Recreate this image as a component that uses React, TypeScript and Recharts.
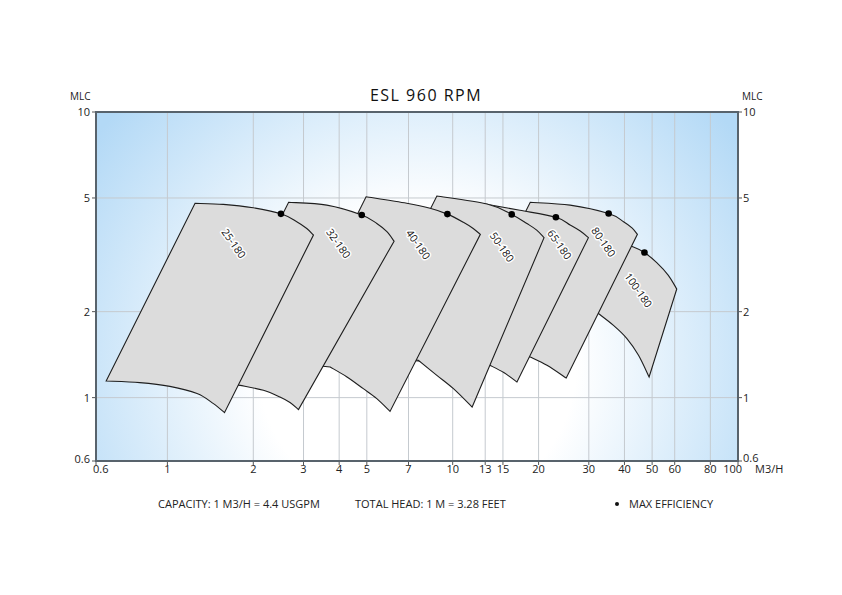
import React from "react";
import { ComposedChart, Scatter, XAxis, YAxis, CartesianGrid } from "recharts";

// the source axis starts a little left of 0.6 but is labelled "0.6"
const X_MIN = 0.562;
const X_TICKS = [X_MIN, 1, 2, 3, 4, 5, 7, 10, 13, 15, 20, 30, 40, 50, 60, 80, 100];
const Y_TICKS = [0.6, 1, 2, 5, 10];

// each pump area: max impeller curve (left -> right), then min impeller curve (right -> left),
// then any hidden corner tucked behind the pump in front of it
const P25_Q = [1.25, 1.57, 2.0, 2.5, 2.84, 3.08, 3.25, 1.585, 1.45, 1.27, 1.02, 0.8, 0.61];
const P25_H = [4.79, 4.75, 4.62, 4.4, 4.13, 3.91, 3.71, 0.886, 0.953, 1.033, 1.095, 1.129, 1.144];

const P32_Q = [2.66, 3.62, 4.8, 5.42, 5.88, 6.23, 2.88, 2.69, 2.48, 2.17, 1.8, 1.29];
const P32_H = [4.83, 4.72, 4.36, 4.07, 3.81, 3.53, 0.908, 0.961, 1.005, 1.061, 1.104, 1.141];

const P40_Q = [4.97, 6.9, 8.33, 9.58, 10.9, 11.8, 12.5, 6.03, 5.42, 4.86, 4.26, 3.72, 2.56];
const P40_H = [5.05, 4.79, 4.6, 4.39, 4.11, 3.91, 3.73, 0.895, 0.992, 1.075, 1.181, 1.28, 1.33];

const P50_Q = [8.8, 13.2, 16.1, 18.2, 19.7, 20.9, 11.7, 10.06, 8.8, 7.58, 4.62];
const P50_H = [5.08, 4.76, 4.38, 4.07, 3.86, 3.63, 0.927, 1.075, 1.197, 1.351, 1.407];

const P65_Q = [13.0, 17.2, 23.0, 25.8, 28.0, 29.9, 16.8, 15.1, 13.5, 6.92];
const P65_H = [4.76, 4.53, 4.28, 4.02, 3.83, 3.63, 1.134, 1.224, 1.298, 1.351];

const P80_Q = [18.7, 25.8, 35.2, 39.7, 42.5, 44.4, 25.0, 21.4, 18.7, 10.3];
const P80_H = [4.83, 4.72, 4.41, 4.13, 3.93, 3.73, 1.171, 1.298, 1.388, 1.465];

const P100_Q = [35.6, 43.0, 47.0, 51.9, 57.0, 61.0, 48.8, 44.8, 40.8, 36.6, 32.4, 28.0];
const P100_H = [3.56, 3.37, 3.22, 2.97, 2.68, 2.4, 1.181, 1.407, 1.61, 1.79, 1.97, 2.11];

// max efficiency points
const EFF_Q = [2.5, 4.8, 9.58, 16.1, 23.0, 35.2, 47.0];
const EFF_H = [4.4, 4.36, 4.39, 4.38, 4.28, 4.41, 3.22];

// model labels
const LABEL_NAMES = ["25-180", "32-180", "40-180", "50-180", "65-180", "80-180", "100-180"];
const LABEL_Q = [1.71, 3.98, 7.58, 14.9, 23.7, 33.8, 44.8];
const LABEL_H = [3.47, 3.47, 3.44, 3.37, 3.44, 3.51, 2.38];

const toPts = (q: number[], h: number[]) => q.map((v, i) => ({ q: v, h: h[i] }));

// back to front, so the smaller pumps overlap the bigger ones
// top / bottom = number of points on the smooth upper and lower curves
const AREAS = [
  { pts: toPts(P100_Q, P100_H), top: 6, bottom: 5 },
  { pts: toPts(P80_Q, P80_H), top: 6, bottom: 3 },
  { pts: toPts(P65_Q, P65_H), top: 6, bottom: 3 },
  { pts: toPts(P50_Q, P50_H), top: 6, bottom: 4 },
  { pts: toPts(P40_Q, P40_H), top: 7, bottom: 5 },
  { pts: toPts(P32_Q, P32_H), top: 6, bottom: 5 },
  { pts: toPts(P25_Q, P25_H), top: 7, bottom: 6 },
];
const effData = toPts(EFF_Q, EFF_H);
const labelData = LABEL_NAMES.map((name, i) => ({ name, q: LABEL_Q[i], h: LABEL_H[i] }));

const FONT = '"Open Sans", "Noto Sans", sans-serif';
const tickStyle = { fontSize: 11, fill: "#222", fontFamily: FONT };

type Pt = { x: number; y: number };

// catmull-rom through the pixel points the scatter hands us
function smooth(pts: Pt[]) {
  let d = "";
  for (let i = 0; i < pts.length - 1; i++) {
    const p0 = pts[i - 1] || pts[i];
    const p1 = pts[i];
    const p2 = pts[i + 1];
    const p3 = pts[i + 2] || p2;
    const c1x = p1.x + (p2.x - p0.x) / 6, c1y = p1.y + (p2.y - p0.y) / 6;
    const c2x = p2.x - (p3.x - p1.x) / 6, c2y = p2.y - (p3.y - p1.y) / 6;
    d += `C${c1x},${c1y} ${c2x},${c2y} ${p2.x},${p2.y}`;
  }
  return d;
}

const areaShape = (top: number, bottom: number) => (p: any) => {
  const pts: Pt[] = p.points;
  const a = pts.slice(0, top);
  const b = pts.slice(top, top + bottom);
  const rest = pts.slice(top + bottom);
  const d =
    `M${a[0].x},${a[0].y}` + smooth(a) +
    `L${b[0].x},${b[0].y}` + smooth(b) +
    rest.map((r) => `L${r.x},${r.y}`).join("") + "Z";
  return <path d={d} fill="#dcdcdc" stroke="#1e1e1e" strokeWidth={1.1} />;
};

const noDot = () => <g />;

const effDot = (p: any) => <circle cx={p.cx} cy={p.cy} r={3.3} fill="#000" />;

const modelLabel = (p: any) => (
  <text
    x={p.cx} y={p.cy}
    transform={`rotate(55, ${p.cx}, ${p.cy})`}
    textAnchor="middle" dominantBaseline="central"
    fontSize={10.5} fontFamily={FONT} fill="#111"
    stroke="#fff" strokeWidth={3} paintOrder="stroke" strokeLinejoin="round"
  >
    {p.payload.name}
  </text>
);

// first and last x labels sit inside the frame ends, like the source
const XTick = (p: any) => {
  const v = p.payload.value;
  const first = v === X_MIN;
  const last = v === 100;
  const anchor = first ? "start" : last ? "end" : "middle";
  const dx = first ? -3 : last ? 4 : 0;
  return (
    <text x={p.x + dx} y={p.y} dy="0.71em" textAnchor={anchor} {...tickStyle}>
      {first ? "0.6" : String(v)}
    </text>
  );
};

const YTickLeft = (p: any) => (
  <text x={p.x} y={p.y - (p.payload.value === 0.6 ? 2 : 0)} dy="0.355em" textAnchor="end" {...tickStyle}>
    {p.payload.value}
  </text>
);

const YTickRight = (p: any) => (
  <text x={p.x} y={p.y - (p.payload.value === 0.6 ? 3 : 0)} dy="0.355em" textAnchor="start" {...tickStyle}>
    {p.payload.value}
  </text>
);

export default function App() {
  return (
    <div style={{ position: "fixed", left: 0, top: 0, width: 842, height: 595, background: "#fff", fontFamily: FONT, color: "#222" }}>

      {/* plot background */}
      <div style={{
        position: "absolute", left: 96, top: 112, width: 642, height: 349,
        background: "radial-gradient(ellipse 62% 110% at 50% 72%, #ffffff 0%, #ffffff 40%, #b3d9f6 100%)",
      }} />

      <div style={{ position: "absolute", left: 0, top: 0 }}>
        <ComposedChart width={842} height={595} margin={{ top: 112, right: 64, bottom: 104, left: 56 }}>
          <CartesianGrid stroke="#c5cacf" strokeWidth={1} />
          <XAxis
            dataKey="q" type="number" scale="log" domain={[X_MIN, 100]} allowDataOverflow
            ticks={X_TICKS} interval={0} height={30}
            tick={XTick} tickSize={4} tickMargin={0}
            axisLine={false} tickLine={{ stroke: "#555" }}
          />
          <YAxis
            dataKey="h" type="number" scale="log" domain={[0.6, 10]} allowDataOverflow
            ticks={Y_TICKS} interval={0} width={40}
            tick={YTickLeft} tickSize={4} tickMargin={2}
            axisLine={false} tickLine={{ stroke: "#555" }}
          />
          <YAxis
            yAxisId="r" orientation="right"
            dataKey="h" type="number" scale="log" domain={[0.6, 10]} allowDataOverflow
            ticks={Y_TICKS} interval={0} width={40}
            tick={YTickRight} tickSize={4} tickMargin={1}
            axisLine={false} tickLine={{ stroke: "#555" }}
          />

          {AREAS.map((a, i) => (
            <Scatter key={i} data={a.pts} dataKey="h" line={areaShape(a.top, a.bottom)} lineType="joint"
              shape={noDot} isAnimationActive={false} />
          ))}

          <Scatter data={effData} dataKey="h" shape={effDot} isAnimationActive={false} />
          <Scatter data={labelData} dataKey="h" shape={modelLabel} isAnimationActive={false} />
        </ComposedChart>
      </div>

      {/* plot frame */}
      <div style={{
        position: "absolute", left: 95, top: 111, width: 644, height: 351,
        boxSizing: "border-box", border: "2px solid #58636c", pointerEvents: "none",
      }} />

      <div style={{ position: "absolute", left: 326, width: 200, top: 84, textAlign: "center", fontSize: 16, letterSpacing: 1.5, color: "#111" }}>
        ESL 960 RPM
      </div>
      <div style={{ position: "absolute", left: 70, top: 89, fontSize: 10 }}>MLC</div>
      <div style={{ position: "absolute", left: 742, top: 89, fontSize: 10 }}>MLC</div>
      <div style={{ position: "absolute", left: 755, top: 461, fontSize: 11 }}>M3/H</div>

      <div style={{ position: "absolute", left: 158, top: 496, fontSize: 11 }}>CAPACITY: 1 M3/H = 4.4 USGPM</div>
      <div style={{ position: "absolute", left: 355, top: 496, fontSize: 11 }}>TOTAL HEAD: 1 M = 3.28 FEET</div>
      <div style={{ position: "absolute", left: 615, top: 502, width: 4, height: 4, borderRadius: 2, background: "#111" }} />
      <div style={{ position: "absolute", left: 629, top: 496, fontSize: 11 }}>MAX EFFICIENCY</div>
    </div>
  );
}
